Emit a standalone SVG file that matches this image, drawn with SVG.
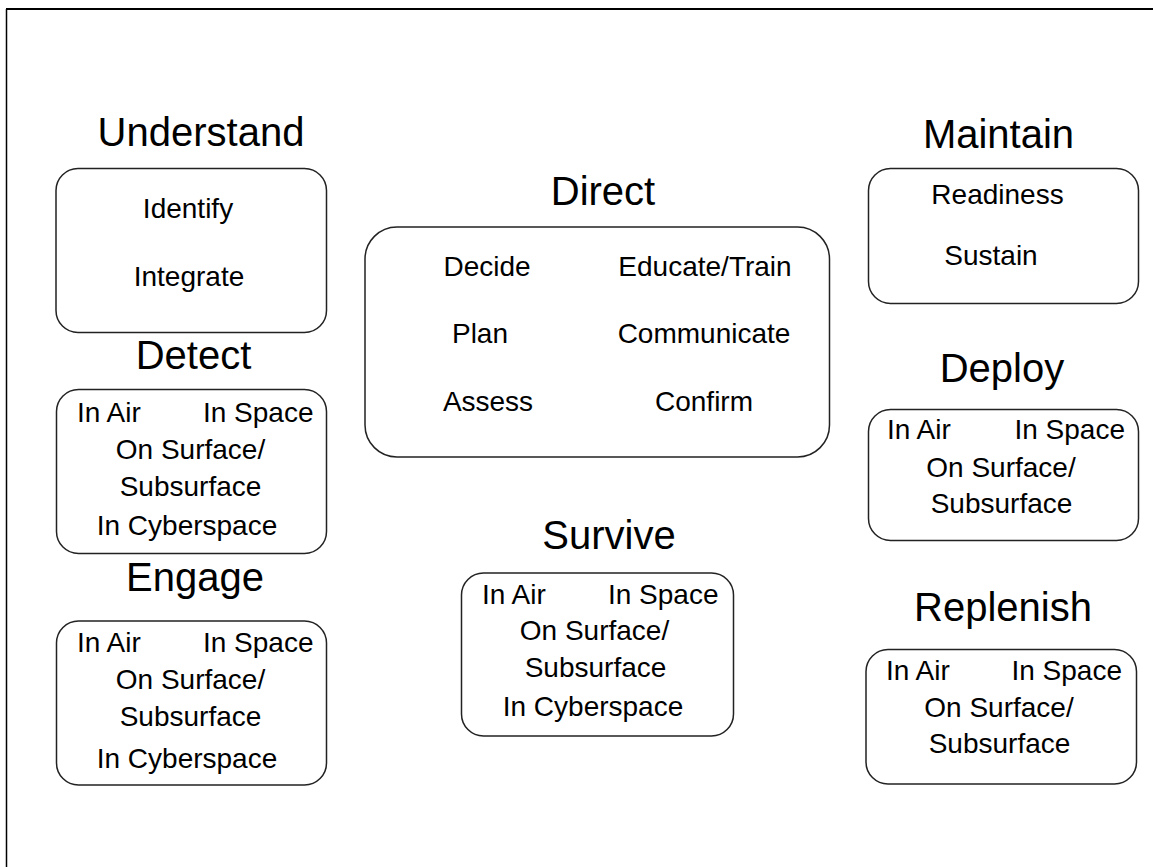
<svg xmlns="http://www.w3.org/2000/svg" width="1153" height="867" viewBox="0 0 1153 867">
  <style>
    .frame { stroke: #000; fill: none; }
    .box { fill: #fff; stroke: #222; stroke-width: 1.5; }
    .title { font-family: "Liberation Sans", Arial, sans-serif; font-size: 40px; fill: #000; }
    .item { font-family: "Liberation Sans", Arial, sans-serif; font-size: 28px; fill: #000; }
    .c { text-anchor: middle; }
    .s { text-anchor: start; }
    .e { text-anchor: end; }
  </style>
  <rect width="1153" height="867" fill="#fff"/>
  <!-- page frame: top and left edges -->
  <line class="frame" x1="6" y1="9" x2="1153" y2="9" stroke-width="2"/>
  <line class="frame" x1="6.5" y1="9" x2="6.5" y2="867" stroke-width="1.5"/>

  <g id="connectors"></g>

  <g id="understand">
    <text class="title c" x="201" y="146">Understand</text>
    <rect class="box" x="56" y="168.5" width="270.5" height="164" rx="22"/>
    <text class="item c" x="188" y="218">Identify</text>
    <text class="item c" x="189" y="286">Integrate</text>
  </g>

  <g id="direct">
    <text class="title c" x="603" y="205">Direct</text>
    <rect class="box" x="365" y="227" width="464.5" height="230" rx="32"/>
    <text class="item c" x="487" y="276">Decide</text>
    <text class="item c" x="705" y="276">Educate/Train</text>
    <text class="item c" x="480" y="343">Plan</text>
    <text class="item c" x="704" y="343">Communicate</text>
    <text class="item c" x="488" y="411">Assess</text>
    <text class="item c" x="704" y="411">Confirm</text>
  </g>

  <g id="maintain">
    <text class="title c" x="998.5" y="148">Maintain</text>
    <rect class="box" x="868.5" y="168.5" width="270" height="135" rx="22"/>
    <text class="item c" x="997.5" y="204">Readiness</text>
    <text class="item c" x="991" y="265">Sustain</text>
  </g>

  <g id="detect">
    <text class="title c" x="193.5" y="369">Detect</text>
    <rect class="box" x="56.5" y="389.5" width="270" height="164" rx="22"/>
    <text class="item s" x="77" y="422">In Air</text>
    <text class="item e" x="313.5" y="422">In Space</text>
    <text class="item c" x="190.5" y="459">On Surface/</text>
    <text class="item c" x="190.5" y="496">Subsurface</text>
    <text class="item c" x="187" y="535">In Cyberspace</text>
  </g>

  <g id="engage">
    <text class="title c" x="195" y="591">Engage</text>
    <rect class="box" x="56.5" y="621" width="270" height="164" rx="22"/>
    <text class="item s" x="77" y="652">In Air</text>
    <text class="item e" x="313.5" y="652">In Space</text>
    <text class="item c" x="190.5" y="689">On Surface/</text>
    <text class="item c" x="190.5" y="726">Subsurface</text>
    <text class="item c" x="187" y="768">In Cyberspace</text>
  </g>

  <g id="survive">
    <text class="title c" x="609" y="549">Survive</text>
    <rect class="box" x="461.5" y="573" width="272" height="163" rx="22"/>
    <text class="item s" x="482" y="604">In Air</text>
    <text class="item e" x="718.5" y="604">In Space</text>
    <text class="item c" x="594.5" y="640">On Surface/</text>
    <text class="item c" x="595.5" y="677">Subsurface</text>
    <text class="item c" x="593" y="716">In Cyberspace</text>
  </g>

  <g id="deploy">
    <text class="title c" x="1002" y="382">Deploy</text>
    <rect class="box" x="868.5" y="409.5" width="270" height="131" rx="22"/>
    <text class="item s" x="887" y="439">In Air</text>
    <text class="item e" x="1125" y="439">In Space</text>
    <text class="item c" x="1001" y="477">On Surface/</text>
    <text class="item c" x="1001.5" y="513">Subsurface</text>
  </g>

  <g id="replenish">
    <text class="title c" x="1003" y="621">Replenish</text>
    <rect class="box" x="866" y="649.5" width="270.5" height="134.5" rx="22"/>
    <text class="item s" x="886" y="680">In Air</text>
    <text class="item e" x="1122" y="680">In Space</text>
    <text class="item c" x="999" y="717">On Surface/</text>
    <text class="item c" x="999.5" y="753">Subsurface</text>
  </g>
</svg>
